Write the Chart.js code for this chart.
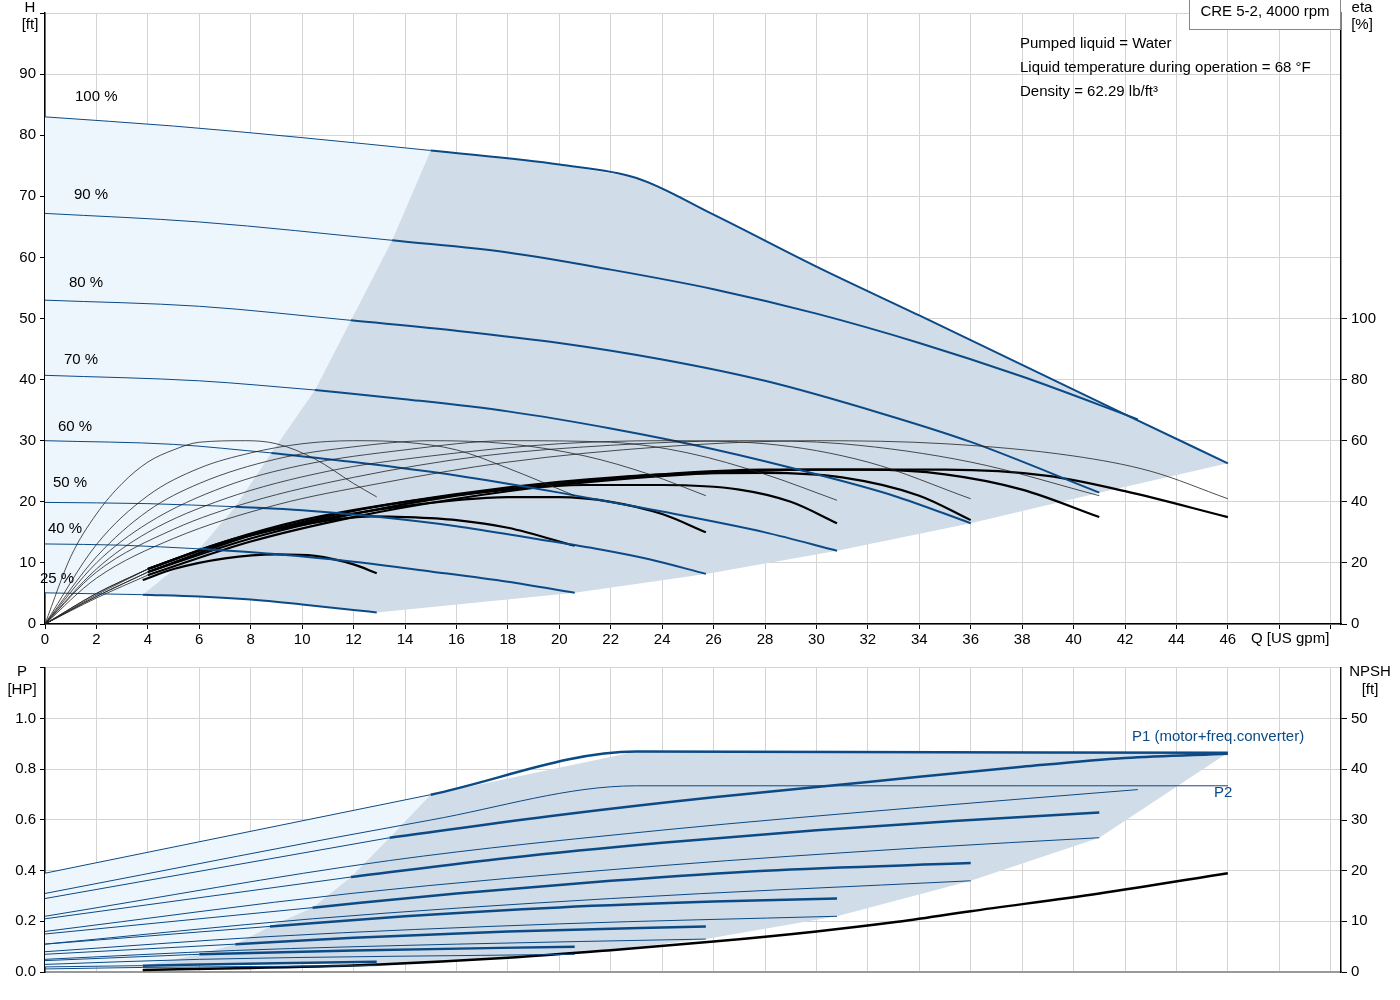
<!DOCTYPE html>
<html><head><meta charset="utf-8">
<script src="https://cdn.jsdelivr.net/npm/chart.js@4.4.1/dist/chart.umd.min.js"></script>
<style>body{margin:0;background:#fff;width:1400px;height:1000px;position:relative;overflow:hidden}
canvas{position:absolute;left:0}</style></head><body>
<div style="position:absolute;left:0;top:0;width:1400px;height:655px"><canvas id="top"></canvas></div>
<div style="position:absolute;left:0;top:655px;width:1400px;height:345px"><canvas id="bot"></canvas></div>
<script>
// ---- Head curves [Q, H] (thin part / thick part) ----
const h100thin=[[0,83],[5,81.5],[10,79.6],[15,77.5]];
const h100=[[15,77.5],[20,75.2],[23,73],[26,67],[30,58.5],[34,50.5],[38,42.4],[42,34.3],[46,26.3]];
const h90thin=[[0,67.2],[6,65.8],[13.5,62.8]];
const h90=[[13.5,62.8],[18,60.8],[22,58],[26,54.8],[30,50.8],[34,46],[38,40.5],[42.5,33.5]];
const h80thin=[[0,53],[6,52],[11.9,49.7]];
const h80=[[11.9,49.7],[16,48],[20,46],[24,43.3],[28,39.8],[32.5,34.5],[36,29.8],[41,21.5]];
const h70thin=[[0,40.7],[6,39.8],[10.5,38.3]];
const h70=[[10.5,38.3],[14,36.8],[18,34.8],[22,32],[26,28.6],[30,24.5],[33,21],[36,16.5]];
const h60thin=[[0,30],[5,29.4],[8.8,28]];
const h60=[[8.8,28],[12,26.5],[16,24.3],[20,21.5],[24,18.4],[28,15],[30.8,12]];
const h50thin=[[0,19.9],[4,19.7],[7.4,19.2]];
const h50=[[7.4,19.2],[10,18.6],[13,17.5],[16,16],[19,14],[21.6,12.2],[23.5,10.6],[25.7,8.2]];
const h40thin=[[0,13.1],[3,12.9],[6,12.3]];
const h40=[[6,12.3],[9,11.4],[12,10.2],[15,8.6],[18,6.9],[20.6,5.1]];
const h25thin=[[0,5.1],[3.8,4.8]];
const h25=[[3.8,4.8],[6,4.5],[8,4],[10,3.2],[12,2.3],[12.9,1.9]];
const speedLabels=["100 %","90 %","80 %","70 %","60 %","50 %","40 %","25 %"];
// region boundaries
const leftBoundary=[[3.8,4.8],[6,12.3],[7.4,19.2],[8.8,28],[10.5,38.3],[11.9,49.7],[13.5,62.8],[15,77.5]];
const lowerBoundary=[[46,26.3],[41,21.5],[36,16.5],[30.8,12],[25.7,8.2],[20.6,5.1],[12.9,1.9]];
// ---- Efficiency curves [Q, eta %] ----
const e25=[[0,0],[1,22],[2,36],[3,46],[4,53],[5,57],[6,59.5],[7.8,60],[9,59],[10.5,54],[12,46],[12.9,41.6]];
const e40=[[0,0],[2,26],[4,42],[6,51],[8,56],[10,59],[12,60],[14,59.5],[16,57],[18,51],[20.6,42]];
const e50=[[0,0],[2,22],[4,37],[6,46],[9,54],[12,58],[15,60],[18,59],[21,55],[23.5,49],[25.7,42]];
const e60=[[0,0],[2,20],[4,33],[7,45],[10,52],[14,57],[18,60],[22,59.5],[25,56],[28,49],[30.8,40.5]];
const e70=[[0,0],[2,18],[4,30],[7,41],[11,50],[15,55],[20,59],[24,60],[28,59],[32,53],[36,41]];
const e80=[[0,0],[2,17],[5,31],[8,40],[12,48],[17,55],[22,58.5],[27,60],[31,59],[36,53],[41,42]];
const e100=[[0,0],[2,15],[5,28],[9,39],[13,46],[18,53],[24,58],[30,60],[35,59],[40,55],[43,50],[46,41]];
const t25=[[3.8,14.4],[5,18],[7,21.5],[9,22.8],[10.5,22.3],[12,19.5],[12.9,16.6]];
const t40=[[0,0],[2,10],[4,18],[6,24],[8,29],[10,32.5],[12.7,35.2],[14,35],[16,34],[18,31.5],[20.6,25.6]];
const t50=[[0,0],[2,10],[4,18],[7,27],[10,33],[13,37.5],[16,40.5],[18,41.5],[20,41.5],[22,40],[24,36],[25.7,30]];
const t60=[[0,0],[2,9.5],[4,18],[7,27],[10,34],[14,40],[18,44],[21,45.5],[24,45.5],[27,44],[29,40],[30.8,33]];
const t70=[[0,0],[2,9],[4,17],[8,29],[12,37],[16,42.5],[20,46.5],[24,49],[28,49.5],[31,48],[34,42],[36,34]];
const t80=[[0,0],[2,9],[4,17],[8,28],[12,36],[16,42],[20,46],[24,49],[28,50.5],[32,50.5],[35,49],[38,44],[41,35]];
const t100=[[0,0],[2,8.5],[4,16],[8,27],[12,35],[16,41],[20,45.5],[25,49],[30,50.5],[35,50.5],[39,48.5],[42,43.5],[46,35]];
// ---- Power curves [Q, P HP] ----
const p100thin=[[0,0.39],[15,0.70]], p100=[[15,0.70],[23,0.87],[46,0.865]];
const p90thin=[[0,0.29],[13.4,0.53]], p90=[[13.4,0.53],[20,0.62],[26,0.69],[32,0.75],[38,0.81],[42,0.845],[46,0.862]];
const p80thin=[[0,0.21],[11.9,0.375]], p80=[[11.9,0.375],[18,0.45],[24,0.51],[30,0.56],[36,0.6],[41,0.63]];
const p70thin=[[0,0.15],[10.4,0.254]], p70=[[10.4,0.254],[16,0.31],[22,0.36],[28,0.40],[36,0.43]];
const p60thin=[[0,0.11],[8.75,0.18]], p60=[[8.75,0.18],[14,0.22],[20,0.255],[26,0.278],[30.8,0.29]];
const p50thin=[[0,0.07],[7.4,0.11]], p50=[[7.4,0.11],[12,0.135],[18,0.16],[25.7,0.18]];
const p40thin=[[0,0.045],[6,0.07]], p40=[[6,0.07],[12,0.085],[20.6,0.1]];
const p25thin=[[0,0.02],[3.8,0.025]], p25=[[3.8,0.025],[9,0.035],[12.9,0.04]];
const q100=[[0,0.31],[15,0.60],[23,0.735],[46,0.735]];
const q90=[[0,0.22],[13.4,0.44],[24,0.56],[34,0.65],[42.5,0.72]];
const q80=[[0,0.16],[11.9,0.31],[24,0.42],[34,0.49],[41,0.53]];
const q70=[[0,0.11],[10.4,0.21],[22,0.29],[36,0.36]];
const q60=[[0,0.08],[8.75,0.14],[20,0.19],[30.8,0.22]];
const q50=[[0,0.05],[7.4,0.085],[16,0.11],[25.7,0.13]];
const q40=[[0,0.03],[6,0.05],[20.6,0.07]];
const q25=[[0,0.012],[3.8,0.018],[12.9,0.025]];
const pLeftBoundary=[[3.8,0.025],[6,0.07],[7.4,0.11],[8.75,0.18],[10.4,0.254],[11.9,0.375],[13.4,0.53],[15,0.70]];
const pLowerBoundary=[[46,0.865],[41,0.53],[36,0.36],[30.8,0.22],[25.7,0.13],[20.6,0.07],[12.9,0.025]];
// NPSH [Q, ft]
const npsh=[[3.8,0.4],[8,0.8],[13,1.5],[18,2.8],[22,4.3],[26,6],[30,8],[33,9.8],[36,12],[41,15.5],[46,19.5]];

const BLUE='#0b4a85', LIGHT='#eef6fd', DARK='#d0dce8', FONT='"Liberation Sans", Arial, sans-serif';
Chart.defaults.font.family=FONT; Chart.defaults.font.size=15; Chart.defaults.color='#000';
const pts=a=>a.map(([x,y])=>({x,y}));
const ln=(a,w,c,axis)=>({data:pts(a),showLine:true,pointRadius:0,borderWidth:w,borderColor:c,yAxisID:axis||'y',tension:0.4,cubicInterpolationMode:'monotone'});

function polyPlugin(polys,texts){
  return {id:'poly'+Math.random(),
    beforeDatasetsDraw(ch){const c=ch.ctx,xs=ch.scales.x,ys=ch.scales.y,a=ch.chartArea;
      c.save();c.beginPath();c.rect(a.left,a.top,a.right-a.left,a.bottom-a.top);c.clip();
      for(const [arr,col] of polys){c.beginPath();arr.forEach(([x,y],i)=>{const px=xs.getPixelForValue(x),py=ys.getPixelForValue(y);i?c.lineTo(px,py):c.moveTo(px,py);});c.closePath();c.fillStyle=col;c.fill();}
      c.restore();},
    afterDraw(ch){const c=ch.ctx;c.save();c.font='15px '+FONT;
      for(const t of texts){c.fillStyle=t.c||'#000';c.textAlign=t.a||'left';c.textBaseline='middle';c.fillText(t.s,t.x,t.y);}
      c.restore();}};
}
function fixW(w){return function(s){s.width=w;};}
function fixH(h){return function(s){s.height=h;};}

// top chart
const lightTop=[...h25thin,...leftBoundary,...[...h100thin].reverse()];
const darkTop=[...h25,...[...lowerBoundary].reverse().slice(1).reverse().reverse(),...[...h100].reverse(),...[...leftBoundary].reverse()];
// darkTop: along 25% curve to its end, lower boundary up to (46,26.3), back along 100% curve, down left boundary
const darkTopPoly=[...h25,...[...lowerBoundary].reverse(),...[...h100].reverse(),...[...leftBoundary].reverse()];
const topTexts=[
 {s:'H',x:30,y:8,a:'center'},{s:'[ft]',x:30,y:25,a:'center'},
 {s:'eta',x:1362,y:8,a:'center'},{s:'[%]',x:1362,y:25,a:'center'},
 {s:'Q [US gpm]',x:1251,y:639},
 {s:'Pumped liquid = Water',x:1020,y:44},
 {s:'Liquid temperature during operation = 68 °F',x:1020,y:68},
 {s:'Density = 62.29 lb/ft³',x:1020,y:92},
 {s:'CRE 5-2, 4000 rpm',x:1265,y:12,a:'center'},
 {s:speedLabels[0],x:75,y:97},{s:speedLabels[1],x:74,y:195},{s:speedLabels[2],x:69,y:283},{s:speedLabels[3],x:64,y:360},
 {s:speedLabels[4],x:58,y:427},{s:speedLabels[5],x:53,y:483},{s:speedLabels[6],x:48,y:529},{s:speedLabels[7],x:40,y:579}];
const boxPlugin={id:'box',afterDraw(ch){const c=ch.ctx;c.save();c.fillStyle='#fff';c.strokeStyle='#888';c.lineWidth=1;
 c.fillRect(1189.5,0.5,151,29);c.strokeRect(1189.5,-1,151,30.5);c.fillStyle='#000';c.font='15px '+FONT;c.textAlign='center';c.textBaseline='middle';c.fillText('CRE 5-2, 4000 rpm',1265,12);c.restore();}};

const thinH=[h100thin,h90thin,h80thin,h70thin,h60thin,h50thin,h40thin,h25thin];
const thickH=[h100,h90,h80,h70,h60,h50,h40,h25];
const topDs=[];
[e25,e40,e50,e60,e70,e80,e100].forEach(a=>topDs.push(ln(a,0.8,'#222','y2')));
thinH.forEach(a=>topDs.push(ln(a,1,BLUE)));
thickH.forEach(a=>topDs.push(ln(a,2,BLUE)));
[t40,t50,t60,t70,t80,t100].forEach(a=>topDs.push(ln(a.filter(p=>p[0]<=4.5),0.8,'#222','y2')));
[t25,t40,t50,t60,t70,t80,t100].forEach(a=>topDs.push(ln(a.filter(p=>p[0]>=3.8),2.2,'#000','y2')));

const gridC='#d4d4d4';
new Chart(document.getElementById('top'),{type:'scatter',data:{datasets:topDs},
 options:{responsive:true,maintainAspectRatio:false,animation:false,events:[],
  layout:{padding:{top:0,left:0,right:0,bottom:0}},
  plugins:{legend:{display:false},tooltip:{enabled:false}},
  scales:{
   x:{type:'linear',min:0,max:50.4,afterFit:fixH(31),afterBuildTicks(s){s.ticks=[];for(let v=0;v<=50;v+=2)s.ticks.push({value:v});},
      ticks:{callback:v=>v<=46?v:'',maxRotation:0,padding:2},grid:{color:gridC,tickLength:5,tickColor:'#000'},border:{color:'#000',width:1.5}},
   y:{min:0,max:100,afterFit:fixW(45),afterBuildTicks(s){s.ticks=[];for(let v=0;v<=100;v+=10)s.ticks.push({value:v});},
      ticks:{callback:v=>v<=90?v:'',padding:4},grid:{color:gridC,tickLength:5,tickColor:'#000'},border:{color:'#000',width:1.5}},
   y2:{position:'right',min:0,max:200,afterFit:fixW(59),afterBuildTicks(s){s.ticks=[];for(let v=0;v<=100;v+=20)s.ticks.push({value:v});},
      ticks:{padding:4},grid:{drawOnChartArea:false,tickLength:6,tickColor:'#000'},border:{color:'#000',width:1.5}}
  }},
 plugins:[polyPlugin([[lightTop,LIGHT],[darkTopPoly,DARK]],topTexts.filter(t=>t.s!=='CRE 5-2, 4000 rpm')),boxPlugin]});

// bottom chart
const lightBot=[[0,0],...p25thin,...pLeftBoundary,...[...p100thin].reverse()];
const darkBot=[...p25,...[...pLowerBoundary].reverse(),...[...p100].reverse(),...[...pLeftBoundary].reverse()];
const botTexts=[{s:'P',x:22,y:17,a:'center'},{s:'[HP]',x:22,y:35,a:'center'},
 {s:'NPSH',x:1370,y:17,a:'center'},{s:'[ft]',x:1370,y:35,a:'center'},
 {s:'P1 (motor+freq.converter)',x:1132,y:82,c:BLUE},{s:'P2',x:1214,y:138,c:BLUE}];
const botDs=[];
[q100,q90,q80,q70,q60,q50,q40,q25].forEach(a=>botDs.push(ln(a,1,BLUE)));
[p100thin,p90thin,p80thin,p70thin,p60thin,p50thin,p40thin,p25thin].forEach(a=>botDs.push(ln(a,1,BLUE)));
[p100,p90,p80,p70,p60,p50,p40,p25].forEach(a=>botDs.push(ln(a,2.5,BLUE)));
botDs.push(ln(npsh,2.5,'#000','y2'));
new Chart(document.getElementById('bot'),{type:'scatter',data:{datasets:botDs},
 options:{responsive:true,maintainAspectRatio:false,animation:false,events:[],
  layout:{padding:{top:10,left:0,right:0,bottom:0}},
  plugins:{legend:{display:false},tooltip:{enabled:false}},
  scales:{
   x:{type:'linear',min:0,max:50.4,afterFit:fixH(28),afterBuildTicks(s){s.ticks=[];for(let v=0;v<=50;v+=2)s.ticks.push({value:v});},
      ticks:{display:false},grid:{color:gridC,tickLength:0},border:{color:'#999',width:2}},
   y:{min:0,max:1.2,afterFit:fixW(45),afterBuildTicks(s){s.ticks=[];for(let v=0;v<=6;v++)s.ticks.push({value:v*0.2});},
      ticks:{callback:v=>v<=1.01?v.toFixed(1):'',padding:4},grid:{color:gridC,tickLength:5,tickColor:'#000'},border:{color:'#000',width:1.5}},
   y2:{position:'right',min:0,max:60,afterFit:fixW(59),afterBuildTicks(s){s.ticks=[];for(let v=0;v<=50;v+=10)s.ticks.push({value:v});},
      ticks:{padding:4},grid:{drawOnChartArea:false,tickLength:6,tickColor:'#000'},border:{color:'#000',width:1.5}}
  }},
 plugins:[polyPlugin([[lightBot,LIGHT],[darkBot,DARK]],botTexts)]});
</script></body></html>
